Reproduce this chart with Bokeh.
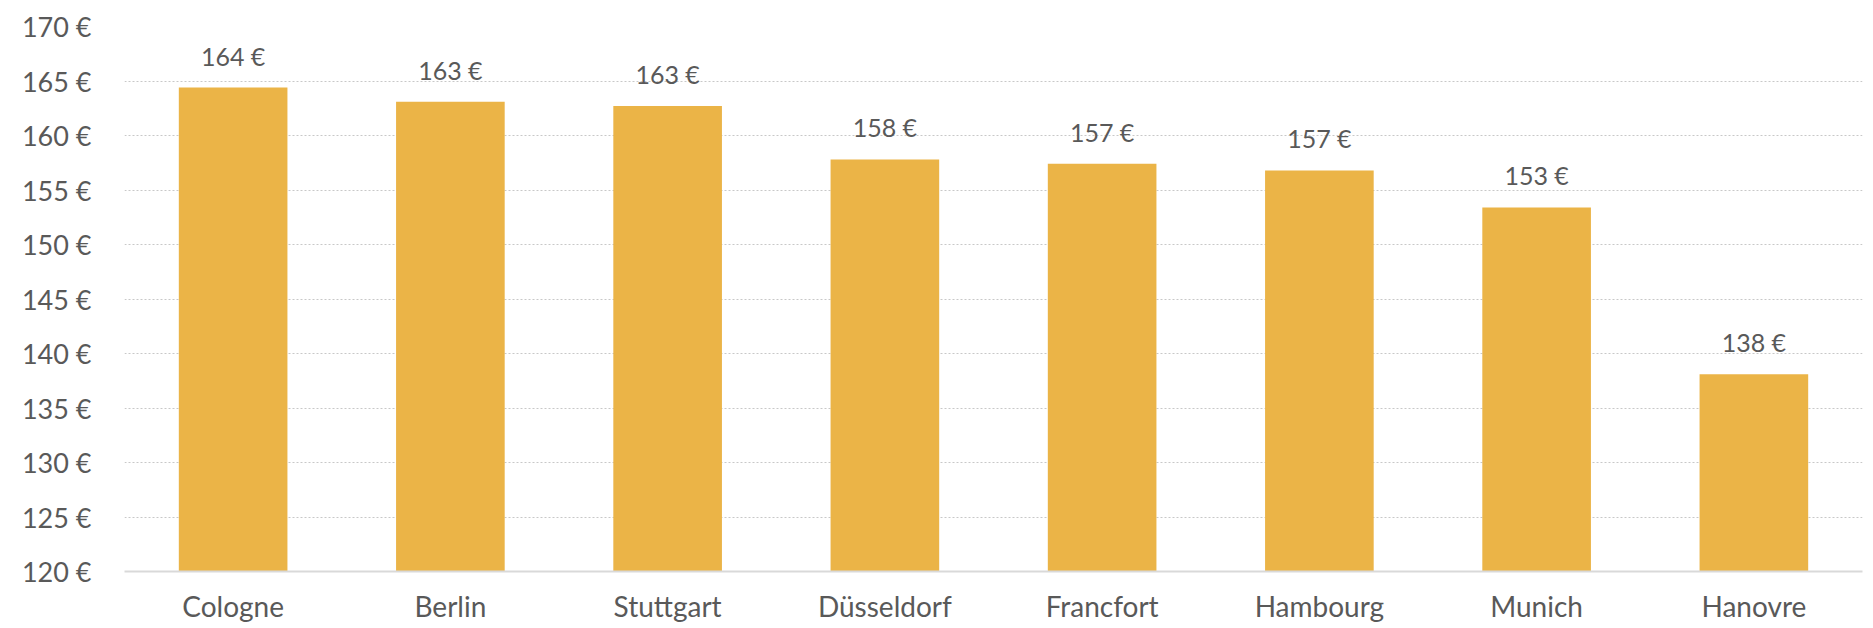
from bokeh.plotting import figure
from bokeh.models import ColumnDataSource, LabelSet, FixedTicker, FactorRange, Range1d
from bokeh.core.properties import value
from bokeh.embed import file_html
from bokeh.resources import INLINE

categories = ["Cologne", "Berlin", "Stuttgart", "Düsseldorf", "Francfort", "Hambourg", "Munich", "Hanovre"]
values = [164.4, 163.1, 162.7, 157.8, 157.4, 156.8, 153.4, 138.1]
value_labels = ["164 €", "163 €", "163 €", "158 €", "157 €", "157 €", "153 €", "138 €"]
y_ticks = [120, 125, 130, 135, 140, 145, 150, 155, 160, 165, 170]
y_tick_labels = ["120 €", "125 €", "130 €", "135 €", "140 €", "145 €", "150 €", "155 €", "160 €", "165 €", "170 €"]
y_min, y_max = 120, 170

FONT = "Lato"
TXT = "#595959"

src = ColumnDataSource(dict(cat=categories, val=values, lab=value_labels,
                            base=[y_min] * len(values)))

p = figure(x_range=FactorRange(*categories, range_padding=0),
           y_range=Range1d(y_min, y_max),
           width=1873, height=628, output_backend="svg", toolbar_location=None,
           min_border_left=124, min_border_right=11, min_border_top=26, min_border_bottom=57)
p.outline_line_color = None

p.vbar(x="cat", top="val", bottom="base", width=0.5, source=src,
       fill_color="#EBB447", line_color=None)

labels = LabelSet(x="cat", y="val", text="lab", source=src, y_offset=17,
                  text_align="center", text_baseline="bottom",
                  text_font=value(FONT), text_font_size="25px", text_color=TXT)
p.add_layout(labels)

p.yaxis.ticker = FixedTicker(ticks=y_ticks)
p.yaxis.major_label_overrides = {t: l for t, l in zip(y_ticks, y_tick_labels)}
p.yaxis.axis_line_color = None
p.yaxis.major_tick_line_color = None
p.yaxis.minor_tick_line_color = None
p.yaxis.major_tick_out = 0
p.yaxis.major_tick_in = 0
p.yaxis.major_label_text_font = FONT
p.yaxis.major_label_text_font_size = "27px"
p.yaxis.major_label_text_color = TXT
p.yaxis.major_label_standoff = 33

p.xaxis.axis_line_color = "#D9D9D9"
p.xaxis.axis_line_width = 2
p.xaxis.major_tick_line_color = None
p.xaxis.minor_tick_line_color = None
p.xaxis.major_tick_out = 0
p.xaxis.major_tick_in = 0
p.xaxis.major_label_text_font = FONT
p.xaxis.major_label_text_font_size = "28px"
p.xaxis.major_label_text_color = TXT
p.xaxis.major_label_standoff = 17

p.xgrid.grid_line_color = None
p.ygrid.grid_line_color = "#C8C8C8"
p.ygrid.grid_line_dash = "2 2"
p.ygrid.grid_line_width = 1

open("out.html", "w").write(file_html(p, INLINE))
